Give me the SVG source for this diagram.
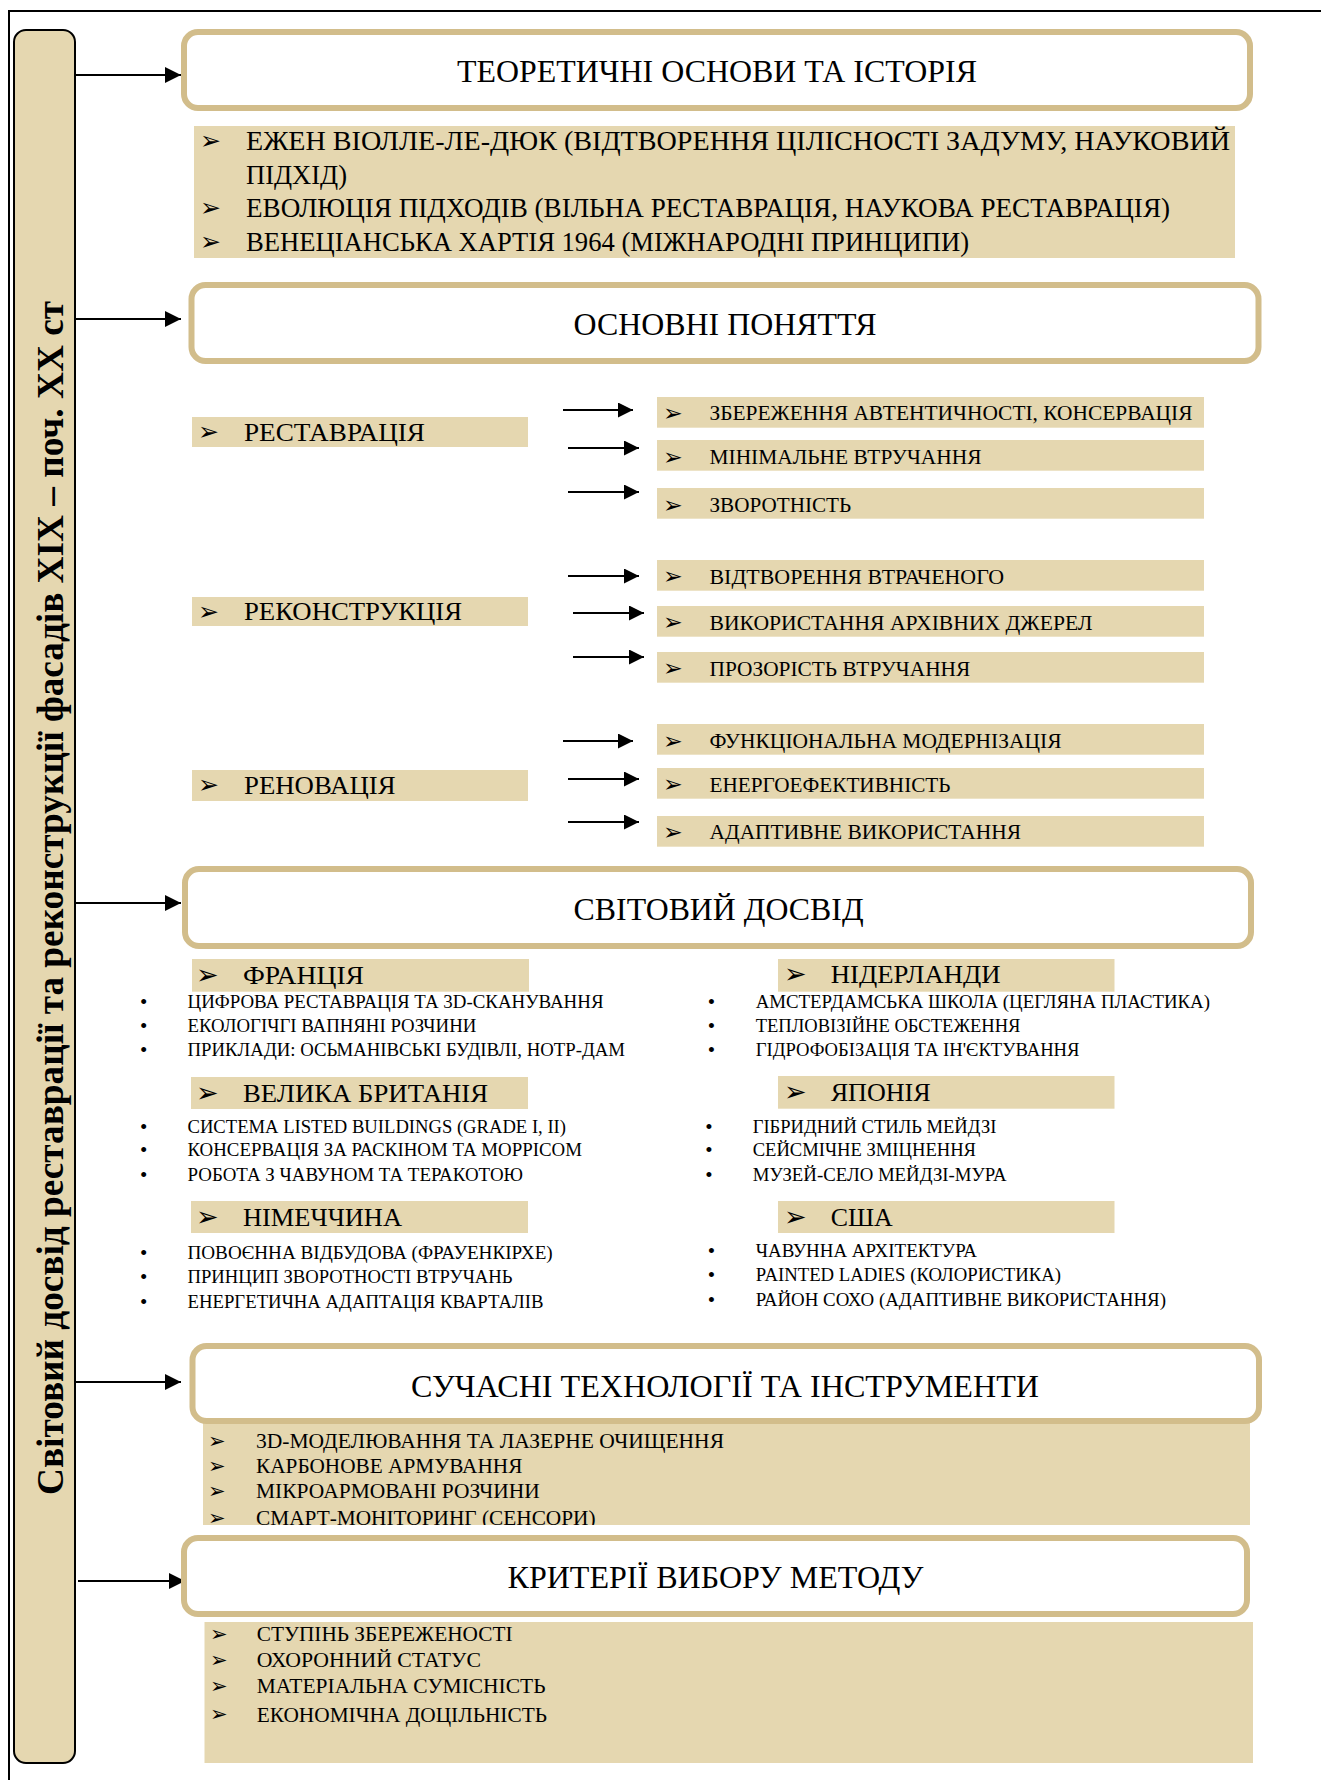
<svg xmlns="http://www.w3.org/2000/svg" width="1321" height="1780" viewBox="0 0 1321 1780">
<style>
.frame{fill:none;stroke:#000;stroke-width:2}
.bar{fill:#E5D7B0;stroke:#000;stroke-width:2}
.hdr{fill:#fff;stroke:#D2BD8B;stroke-width:6}
.tan{fill:#E5D7B0}
.t{font-family:"Liberation Serif","Times New Roman",serif;fill:#000}
.h{font-size:31.5px;text-anchor:middle}
.b27{font-size:27px}
.b26{font-size:26px}
.b21{font-size:21.5px}
.b18{font-size:18.5px}
.ar{font-family:"DejaVu Sans",sans-serif;fill:#000}
.a1{font-size:25px}
.a2{font-size:23.5px}
.a3{font-size:27px}
.a4{font-size:21px}
.dot{font-family:"Liberation Serif",serif;font-size:21px;text-anchor:middle}
.ln{stroke:#000;stroke-width:2.2;fill:none}
.vt{font-family:"Liberation Serif","Times New Roman",serif;font-weight:bold;font-size:37px;text-anchor:middle}
</style>
<defs>
<marker id="ah" markerUnits="userSpaceOnUse" markerWidth="16" markerHeight="16" refX="16" refY="8" orient="auto">
<path d="M0,0 L16,8 L0,16 z" fill="#000"/>
</marker>
<marker id="ah2" markerUnits="userSpaceOnUse" markerWidth="15" markerHeight="15" refX="15" refY="7.5" orient="auto">
<path d="M0,0 L15,7.5 L0,15 z" fill="#000"/>
</marker>
<clipPath id="techClip"><rect x="203" y="1420" width="1047" height="105"/></clipPath>
</defs>
<rect width="1321" height="1780" fill="#fff"/>
<path class="frame" d="M9,1780 V11 H1321"/>

<g id="side-bar">
<rect class="bar" x="14" y="30" width="61" height="1733" rx="12"/>
<text class="vt" transform="translate(63,898) rotate(-90)" textLength="1194" lengthAdjust="spacingAndGlyphs">Світовий досвід реставрації та реконструкції фасадів XIX – поч. XX ст</text>
</g>

<g id="connectors">
<line class="ln" x1="76" y1="75" x2="181" y2="75" marker-end="url(#ah)"/>
<line class="ln" x1="74" y1="319" x2="181" y2="319" marker-end="url(#ah)"/>
<line class="ln" x1="74" y1="903" x2="181" y2="903" marker-end="url(#ah)"/>
<line class="ln" x1="74" y1="1382" x2="181" y2="1382" marker-end="url(#ah)"/>
<line class="ln" x1="78" y1="1581" x2="185" y2="1581" marker-end="url(#ah)"/>
<line class="ln" x1="563" y1="410" x2="633" y2="410" marker-end="url(#ah2)"/>
<line class="ln" x1="568" y1="448" x2="639" y2="448" marker-end="url(#ah2)"/>
<line class="ln" x1="568" y1="492" x2="639" y2="492" marker-end="url(#ah2)"/>
<line class="ln" x1="568" y1="576" x2="639" y2="576" marker-end="url(#ah2)"/>
<line class="ln" x1="573" y1="613" x2="644" y2="613" marker-end="url(#ah2)"/>
<line class="ln" x1="573" y1="657" x2="644" y2="657" marker-end="url(#ah2)"/>
<line class="ln" x1="563" y1="741" x2="633" y2="741" marker-end="url(#ah2)"/>
<line class="ln" x1="568" y1="779" x2="639" y2="779" marker-end="url(#ah2)"/>
<line class="ln" x1="568" y1="822" x2="639" y2="822" marker-end="url(#ah2)"/>
</g>

<g id="theory">
<rect class="hdr" x="184" y="32" width="1066" height="76" rx="14"/>
<text class="t h" x="717" y="82" textLength="520" lengthAdjust="spacingAndGlyphs">ТЕОРЕТИЧНІ ОСНОВИ ТА ІСТОРІЯ</text>
</g>
<g id="theory-items">
<rect class="tan" x="194" y="126" width="1041" height="132"/>
<text class="ar a1" x="200" y="149.3">➢</text>
<text class="t b27" x="246" y="150" textLength="984" lengthAdjust="spacingAndGlyphs">ЕЖЕН ВІОЛЛЕ-ЛЕ-ДЮК (ВІДТВОРЕННЯ ЦІЛІСНОСТІ ЗАДУМУ, НАУКОВИЙ</text>
<text class="t b27" x="246" y="184" textLength="101" lengthAdjust="spacingAndGlyphs">ПІДХІД)</text>
<text class="ar a1" x="200" y="216.3">➢</text>
<text class="t b27" x="246" y="217" textLength="924" lengthAdjust="spacingAndGlyphs">ЕВОЛЮЦІЯ ПІДХОДІВ (ВІЛЬНА РЕСТАВРАЦІЯ, НАУКОВА РЕСТАВРАЦІЯ)</text>
<text class="ar a1" x="200" y="249.8">➢</text>
<text class="t b27" x="246" y="250.5" textLength="723" lengthAdjust="spacingAndGlyphs">ВЕНЕЦІАНСЬКА ХАРТІЯ 1964 (МІЖНАРОДНІ ПРИНЦИПИ)</text>
</g>

<g id="concepts">
<rect class="hdr" x="191.5" y="285" width="1067" height="76" rx="14"/>
<text class="t h" x="725" y="335" textLength="303" lengthAdjust="spacingAndGlyphs">ОСНОВНІ ПОНЯТТЯ</text>
</g>
<g id="restoration">
<rect class="tan" x="192" y="417" width="336" height="30"/>
<text class="ar a1" x="198" y="440.3">➢</text>
<text class="t b26" x="244" y="440.6" textLength="181" lengthAdjust="spacingAndGlyphs">РЕСТАВРАЦІЯ</text>
</g>
<g id="reconstruction">
<rect class="tan" x="192" y="597" width="336" height="29"/>
<text class="ar a1" x="198" y="619.7">➢</text>
<text class="t b26" x="244" y="620" textLength="218" lengthAdjust="spacingAndGlyphs">РЕКОНСТРУКЦІЯ</text>
</g>
<g id="renovation">
<rect class="tan" x="192" y="770" width="336" height="31"/>
<text class="ar a1" x="198" y="793.3">➢</text>
<text class="t b26" x="244" y="793.6" textLength="151.6" lengthAdjust="spacingAndGlyphs">РЕНОВАЦІЯ</text>
</g>
<g id="concept-items">
<rect class="tan" x="657" y="397" width="547" height="30.7"/>
<text class="ar a2" x="663" y="421">➢</text>
<text class="t b21" x="709.5" y="420.3" textLength="483" lengthAdjust="spacingAndGlyphs">ЗБЕРЕЖЕННЯ АВТЕНТИЧНОСТІ, КОНСЕРВАЦІЯ</text>
<rect class="tan" x="657" y="440" width="547" height="30.7"/>
<text class="ar a2" x="663" y="464.7">➢</text>
<text class="t b21" x="709.5" y="464" textLength="272" lengthAdjust="spacingAndGlyphs">МІНІМАЛЬНЕ ВТРУЧАННЯ</text>
<rect class="tan" x="657" y="488" width="547" height="30.7"/>
<text class="ar a2" x="663" y="512.7">➢</text>
<text class="t b21" x="709.5" y="512" textLength="141.6" lengthAdjust="spacingAndGlyphs">ЗВОРОТНІСТЬ</text>
<rect class="tan" x="657" y="560" width="547" height="30.7"/>
<text class="ar a2" x="663" y="584.4">➢</text>
<text class="t b21" x="709.5" y="583.7" textLength="294.6" lengthAdjust="spacingAndGlyphs">ВІДТВОРЕННЯ ВТРАЧЕНОГО</text>
<rect class="tan" x="657" y="606" width="547" height="30.7"/>
<text class="ar a2" x="663" y="630.3">➢</text>
<text class="t b21" x="709.5" y="629.6" textLength="383" lengthAdjust="spacingAndGlyphs">ВИКОРИСТАННЯ АРХІВНИХ ДЖЕРЕЛ</text>
<rect class="tan" x="657" y="652" width="547" height="30.7"/>
<text class="ar a2" x="663" y="676.2">➢</text>
<text class="t b21" x="709.5" y="675.5" textLength="260.7" lengthAdjust="spacingAndGlyphs">ПРОЗОРІСТЬ ВТРУЧАННЯ</text>
<rect class="tan" x="657" y="724" width="547" height="30.7"/>
<text class="ar a2" x="663" y="749">➢</text>
<text class="t b21" x="709.5" y="748.3" textLength="352" lengthAdjust="spacingAndGlyphs">ФУНКЦІОНАЛЬНА МОДЕРНІЗАЦІЯ</text>
<rect class="tan" x="657" y="768" width="547" height="30.7"/>
<text class="ar a2" x="663" y="792.2">➢</text>
<text class="t b21" x="709.5" y="791.5" textLength="241" lengthAdjust="spacingAndGlyphs">ЕНЕРГОЕФЕКТИВНІСТЬ</text>
<rect class="tan" x="657" y="816" width="547" height="30.7"/>
<text class="ar a2" x="663" y="840">➢</text>
<text class="t b21" x="709.5" y="839.3" textLength="311.6" lengthAdjust="spacingAndGlyphs">АДАПТИВНЕ ВИКОРИСТАННЯ</text>
</g>

<g id="world">
<rect class="hdr" x="185" y="869" width="1066" height="77" rx="14"/>
<text class="t h" x="718.6" y="920" textLength="290" lengthAdjust="spacingAndGlyphs">СВІТОВИЙ ДОСВІД</text>
</g>
<g id="france">
<rect class="tan" x="192" y="959" width="337" height="32.7"/>
<text class="ar a3" x="196" y="984">➢</text>
<text class="t b26" x="243" y="984" font-size="26.5" textLength="121" lengthAdjust="spacingAndGlyphs">ФРАНЦІЯ</text>
<text class="t dot" x="143.7" y="1008.8">•</text>
<text class="t b18" x="187.5" y="1007.8" textLength="416" lengthAdjust="spacingAndGlyphs">ЦИФРОВА РЕСТАВРАЦІЯ ТА 3D-СКАНУВАННЯ</text>
<text class="t dot" x="143.7" y="1033">•</text>
<text class="t b18" x="187.5" y="1032" textLength="288.8" lengthAdjust="spacingAndGlyphs">ЕКОЛОГІЧГІ ВАПНЯНІ РОЗЧИНИ</text>
<text class="t dot" x="143.7" y="1057">•</text>
<text class="t b18" x="187.5" y="1056" textLength="437.5" lengthAdjust="spacingAndGlyphs">ПРИКЛАДИ: ОСЬМАНІВСЬКІ БУДІВЛІ, НОТР-ДАМ</text>
</g>
<g id="uk">
<rect class="tan" x="191" y="1077" width="337" height="32"/>
<text class="ar a3" x="196" y="1102">➢</text>
<text class="t b26" x="243" y="1102" font-size="26.5" textLength="245" lengthAdjust="spacingAndGlyphs">ВЕЛИКА БРИТАНІЯ</text>
<text class="t dot" x="143.7" y="1133.8">•</text>
<text class="t b18" x="187.5" y="1132.8" textLength="378.5" lengthAdjust="spacingAndGlyphs">СИСТЕМА LISTED BUILDINGS (GRADE I, II)</text>
<text class="t dot" x="143.7" y="1157">•</text>
<text class="t b18" x="187.5" y="1156" textLength="394.5" lengthAdjust="spacingAndGlyphs">КОНСЕРВАЦІЯ ЗА РАСКІНОМ ТА МОРРІСОМ</text>
<text class="t dot" x="143.7" y="1182">•</text>
<text class="t b18" x="187.5" y="1181" textLength="335.5" lengthAdjust="spacingAndGlyphs">РОБОТА З ЧАВУНОМ ТА ТЕРАКОТОЮ</text>
</g>
<g id="germany">
<rect class="tan" x="191" y="1201" width="337" height="32"/>
<text class="ar a3" x="196" y="1226">➢</text>
<text class="t b26" x="243" y="1226" font-size="26.5" textLength="159" lengthAdjust="spacingAndGlyphs">НІМЕЧЧИНА</text>
<text class="t dot" x="143.7" y="1260">•</text>
<text class="t b18" x="187.5" y="1259" textLength="365.2" lengthAdjust="spacingAndGlyphs">ПОВОЄННА ВІДБУДОВА (ФРАУЕНКІРХЕ)</text>
<text class="t dot" x="143.7" y="1284">•</text>
<text class="t b18" x="187.5" y="1283" textLength="325" lengthAdjust="spacingAndGlyphs">ПРИНЦИП ЗВОРОТНОСТІ ВТРУЧАНЬ</text>
<text class="t dot" x="143.7" y="1309">•</text>
<text class="t b18" x="187.5" y="1308" textLength="356" lengthAdjust="spacingAndGlyphs">ЕНЕРГЕТИЧНА АДАПТАЦІЯ КВАРТАЛІВ</text>
</g>
<g id="netherlands">
<rect class="tan" x="778" y="959" width="336.5" height="32.7"/>
<text class="ar a3" x="784" y="983">➢</text>
<text class="t b26" x="830.7" y="983" font-size="26.5" textLength="170" lengthAdjust="spacingAndGlyphs">НІДЕРЛАНДИ</text>
<text class="t dot" x="711.4" y="1008.8">•</text>
<text class="t b18" x="755.7" y="1007.8" textLength="454.3" lengthAdjust="spacingAndGlyphs">АМСТЕРДАМСЬКА ШКОЛА (ЦЕГЛЯНА ПЛАСТИКА)</text>
<text class="t dot" x="711.4" y="1033">•</text>
<text class="t b18" x="755.7" y="1032" textLength="264.8" lengthAdjust="spacingAndGlyphs">ТЕПЛОВІЗІЙНЕ ОБСТЕЖЕННЯ</text>
<text class="t dot" x="711.4" y="1057">•</text>
<text class="t b18" x="755.7" y="1056" textLength="323.8" lengthAdjust="spacingAndGlyphs">ГІДРОФОБІЗАЦІЯ ТА ІН'ЄКТУВАННЯ</text>
</g>
<g id="japan">
<rect class="tan" x="778" y="1076" width="336.5" height="32.7"/>
<text class="ar a3" x="784" y="1101">➢</text>
<text class="t b26" x="830.7" y="1101" font-size="26.5" textLength="100" lengthAdjust="spacingAndGlyphs">ЯПОНІЯ</text>
<text class="t dot" x="709" y="1133.8">•</text>
<text class="t b18" x="752.7" y="1132.8" textLength="243.7" lengthAdjust="spacingAndGlyphs">ГІБРИДНИЙ СТИЛЬ МЕЙДЗІ</text>
<text class="t dot" x="709" y="1157">•</text>
<text class="t b18" x="752.7" y="1156" textLength="223.3" lengthAdjust="spacingAndGlyphs">СЕЙСМІЧНЕ ЗМІЦНЕННЯ</text>
<text class="t dot" x="709" y="1182">•</text>
<text class="t b18" x="752.7" y="1181" textLength="253.8" lengthAdjust="spacingAndGlyphs">МУЗЕЙ-СЕЛО МЕЙДЗІ-МУРА</text>
</g>
<g id="usa">
<rect class="tan" x="778" y="1201" width="336.5" height="32"/>
<text class="ar a3" x="784" y="1226">➢</text>
<text class="t b26" x="830.7" y="1226" font-size="26.5" textLength="62" lengthAdjust="spacingAndGlyphs">США</text>
<text class="t dot" x="711.4" y="1257.8">•</text>
<text class="t b18" x="755.7" y="1256.8" textLength="221.3" lengthAdjust="spacingAndGlyphs">ЧАВУННА АРХІТЕКТУРА</text>
<text class="t dot" x="711.4" y="1282">•</text>
<text class="t b18" x="755.7" y="1281" textLength="305.3" lengthAdjust="spacingAndGlyphs">PAINTED LADIES (КОЛОРИСТИКА)</text>
<text class="t dot" x="711.4" y="1307">•</text>
<text class="t b18" x="755.7" y="1306" textLength="410.3" lengthAdjust="spacingAndGlyphs">РАЙОН СОХО (АДАПТИВНЕ ВИКОРИСТАННЯ)</text>
</g>

<g id="tech-items">
<rect class="tan" x="203" y="1420" width="1047" height="105"/>
<g clip-path="url(#techClip)">
<text class="ar a4" x="208" y="1447.8">➢</text>
<text class="t b21" x="256" y="1448" textLength="468" lengthAdjust="spacingAndGlyphs">3D-МОДЕЛЮВАННЯ ТА ЛАЗЕРНЕ ОЧИЩЕННЯ</text>
<text class="ar a4" x="208" y="1472.8">➢</text>
<text class="t b21" x="256" y="1473" textLength="266.4" lengthAdjust="spacingAndGlyphs">КАРБОНОВЕ АРМУВАННЯ</text>
<text class="ar a4" x="208" y="1497.8">➢</text>
<text class="t b21" x="256" y="1498" textLength="283.8" lengthAdjust="spacingAndGlyphs">МІКРОАРМОВАНІ РОЗЧИНИ</text>
<text class="ar a4" x="208" y="1524.8">➢</text>
<text class="t b21" x="256" y="1525" textLength="339.6" lengthAdjust="spacingAndGlyphs">СМАРТ-МОНІТОРИНГ (СЕНСОРИ)</text>
</g>
</g>
<g id="tech">
<rect class="hdr" x="192.5" y="1346" width="1066.5" height="75" rx="14"/>
<text class="t h" x="725" y="1397" textLength="628" lengthAdjust="spacingAndGlyphs">СУЧАСНІ ТЕХНОЛОГІЇ ТА ІНСТРУМЕНТИ</text>
</g>

<g id="criteria">
<rect class="hdr" x="184" y="1538" width="1063" height="76" rx="14"/>
<text class="t h" x="715.5" y="1588" textLength="416" lengthAdjust="spacingAndGlyphs">КРИТЕРІЇ ВИБОРУ МЕТОДУ</text>
</g>
<g id="criteria-items">
<rect class="tan" x="204.5" y="1622" width="1048.5" height="141"/>
<text class="ar a4" x="210" y="1640.8">➢</text>
<text class="t b21" x="256.7" y="1641" textLength="255.8" lengthAdjust="spacingAndGlyphs">СТУПІНЬ ЗБЕРЕЖЕНОСТІ</text>
<text class="ar a4" x="210" y="1666.8">➢</text>
<text class="t b21" x="256.7" y="1667" textLength="224.3" lengthAdjust="spacingAndGlyphs">ОХОРОННИЙ СТАТУС</text>
<text class="ar a4" x="210" y="1692.8">➢</text>
<text class="t b21" x="256.7" y="1693" textLength="288.8" lengthAdjust="spacingAndGlyphs">МАТЕРІАЛЬНА СУМІСНІСТЬ</text>
<text class="ar a4" x="210" y="1721.3">➢</text>
<text class="t b21" x="256.7" y="1721.5" textLength="290.3" lengthAdjust="spacingAndGlyphs">ЕКОНОМІЧНА ДОЦІЛЬНІСТЬ</text>
</g>
</svg>
